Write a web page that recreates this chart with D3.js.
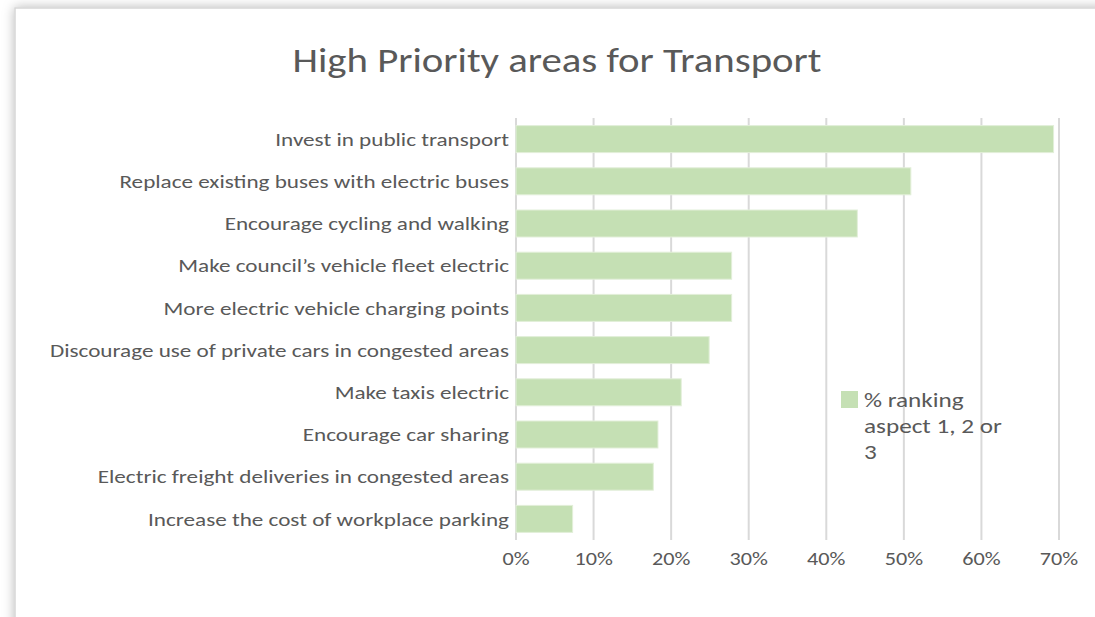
<!DOCTYPE html>
<html>
<head>
<meta charset="utf-8">
<script src="https://cdn.jsdelivr.net/npm/d3@7"></script>
<style>
  body { margin: 0; background: #fff; }
  svg { display: block; }
</style>
</head>
<body>
<svg id="chart"></svg>
<script>
const categories = [
    "Invest in public transport",
    "Replace existing buses with electric buses",
    "Encourage cycling and walking",
    "Make council\u2019s vehicle fleet electric",
    "More electric vehicle charging points",
    "Discourage use of private cars in congested areas",
    "Make taxis electric",
    "Encourage car sharing",
    "Electric freight deliveries in congested areas",
    "Increase the cost of workplace parking"
];
const values = [0.693, 0.509, 0.440, 0.278, 0.278, 0.249, 0.213, 0.183, 0.177, 0.073];
const ticks = [0, 0.1, 0.2, 0.3, 0.4, 0.5, 0.6, 0.7];
const seriesName = ["% ranking", "aspect 1, 2 or", "3"];
const title = "High Priority areas for Transport";

const W = 1095, H = 617;
const font = "Carlito, Calibri, Lato, 'Open Sans', sans-serif";
const textColor = "#595959";
const sx = 1.2; // calibri-ish text in the original is wider than Lato

let svg = d3.select("#chart").attr("width", W).attr("height", H);

// frame with soft shadow (top / left), like the pasted excel chart
let defs = svg.append("defs");
let f = defs.append("filter").attr("id", "shadow")
    .attr("x", "-5%").attr("y", "-5%").attr("width", "110%").attr("height", "110%");
f.append("feDropShadow").attr("dx", 0).attr("dy", 0)
    .attr("stdDeviation", 6).attr("flood-color", "#000").attr("flood-opacity", 0.28);

svg.append("rect")
    .attr("x", 15).attr("y", 8)
    .attr("width", W + 20).attr("height", H + 20)
    .attr("fill", "#fff")
    .attr("stroke", "#d6d6d6")
    .attr("stroke-width", 1.5)
    .attr("filter", "url(#shadow)");

let x = d3.scaleLinear().domain([0, 0.7]).range([516, 1059]);
let y = d3.scaleBand().domain(categories).range([118, 540])
    .paddingInner(0.36).paddingOuter(0.18);

// title
svg.append("text")
    .attr("transform", `translate(557,72) scale(${sx},1)`)
    .attr("text-anchor", "middle")
    .style("font-family", font)
    .style("font-weight", 300)
    .style("font-size", "34px")
    .style("fill", textColor)
    .text(title);

// gridlines
svg.append("g")
    .selectAll("line")
    .data(ticks)
    .enter().append("line")
    .attr("x1", d => x(d)).attr("x2", d => x(d))
    .attr("y1", 118).attr("y2", 540)
    .attr("stroke", "#d9d9d9")
    .attr("stroke-width", 2);

// bars
svg.append("g")
    .selectAll("rect")
    .data(categories)
    .enter().append("rect")
    .attr("x", x(0))
    .attr("y", d => y(d))
    .attr("width", (d, i) => x(values[i]) - x(0))
    .attr("height", y.bandwidth())
    .attr("fill", "#c5e0b4")
    .attr("stroke", "#e2efd9")
    .attr("stroke-width", 1);

// category labels
svg.append("g")
    .selectAll("text")
    .data(categories)
    .enter().append("text")
    .attr("transform", d => `translate(509,${y(d) + y.bandwidth() / 2}) scale(${sx},1)`)
    .attr("dy", "0.35em")
    .attr("text-anchor", "end")
    .style("font-family", font)
    .style("font-size", "19.3px")
    .style("fill", textColor)
    .text(d => d);

// x tick labels
svg.append("g")
    .selectAll("text")
    .data(ticks)
    .enter().append("text")
    .attr("transform", d => `translate(${x(d)},565) scale(${sx},1)`)
    .attr("text-anchor", "middle")
    .style("font-family", font)
    .style("font-size", "18.5px")
    .style("fill", textColor)
    .text(d3.format(".0%"));

// legend
let legend = svg.append("g").attr("transform", "translate(841,391)");
legend.append("rect")
    .attr("width", 17).attr("height", 17)
    .attr("fill", "#c5e0b4");
legend.selectAll("text")
    .data(seriesName)
    .enter().append("text")
    .attr("transform", (d, i) => `translate(23,${16 + i * 26}) scale(${sx},1)`)
    .style("font-family", font)
    .style("font-size", "21px")
    .style("fill", textColor)
    .text(d => d);
</script>
</body>
</html>
